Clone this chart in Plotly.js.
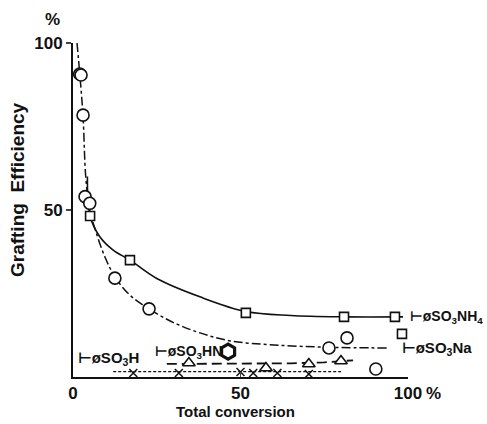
<!DOCTYPE html>
<html><head><meta charset="utf-8">
<script src="https://cdn.plot.ly/plotly-3.0.1.min.js"></script>
<style>html,body{margin:0;padding:0;background:#fff}#c{width:487px;height:424px}</style>
</head><body><div id="c"></div>
<script>
// SO3NH4 (squares)
const nh4X = [5.1, 17, 51.6, 80.9, 96.1];
const nh4Y = [48.2, 35, 19.2, 18, 18];
const nh4ExtraX = [98.2];
const nh4ExtraY = [12.9];
const nh4CurveX = [4.3, 5.1, 8, 12, 17, 25, 37.9, 51.6, 65, 80.9, 98.5];
const nh4CurveY = [60, 48.2, 42, 38, 35, 29.5, 24, 19.6, 18.4, 18, 18];
// SO3Na (circles)
const naX = [2.0, 2.4, 3.0, 3.6, 5.0, 12.5, 22.7, 76.4, 81.8, 90.4];
const naY = [90.7, 90.4, 78.4, 54, 52, 29.6, 20.4, 8.7, 11.7, 2.4];
const naCurveX = [1.2, 2.0, 3.0, 3.8, 5.0, 7, 9.5, 12.5, 17, 22.7, 30, 37.9, 47, 60, 76.4, 93.7];
const naCurveY = [100, 91, 78, 60, 50, 43, 36, 30, 24.5, 20.4, 16.3, 13.2, 10.8, 9.6, 8.9, 8.7];
// SO3HN-cyclohexyl (triangles)
const hnX = [34.6, 57.6, 70.4, 80];
const hnY = [4.2, 2.7, 3.9, 4.8];
const hnLineX = [28, 50, 65, 75, 83.6];
const hnLineY = [3.9, 4.0, 4.1, 4.4, 5.0];
// SO3H (crosses)
const hX = [18, 31.6, 50, 53.8, 61, 70.4];
const hY = [1.2, 1.2, 1.5, 1.2, 1.2, 0.9];
const hLineX = [12, 80];
const hLineY = [1.6, 1.6];
// labels
const xTicks = [0, 50, 100];
const xTickText = ['0', '50', '100'];
const yTicks = [50, 100];
const yTickText = ['50', '100'];

const F = 'Liberation Sans, Arial, DejaVu Sans, sans-serif';
const blk = '#111';
const traces = [
  {x: nh4CurveX, y: nh4CurveY, mode: 'lines', line: {color: blk, width: 1.6, shape: 'spline', smoothing: 1}},
  {x: naCurveX, y: naCurveY, mode: 'lines', line: {color: blk, width: 1.5, shape: 'spline', smoothing: 1, dash: 'dashdot'}},
  {x: hnLineX, y: hnLineY, mode: 'lines', line: {color: blk, width: 1.8, dash: '10px,5px'}},
  {x: hLineX, y: hLineY, mode: 'lines', line: {color: blk, width: 1.4, dash: '3px,2px'}},
  {x: nh4X, y: nh4Y, mode: 'markers', marker: {symbol: 'square', size: 9, color: '#fff', line: {color: blk, width: 1.6}}},
  {x: nh4ExtraX, y: nh4ExtraY, mode: 'markers', marker: {symbol: 'square', size: 9, color: '#fff', line: {color: blk, width: 1.6}}},
  {x: naX, y: naY, mode: 'markers', marker: {symbol: 'circle', size: 12, color: '#fff', line: {color: blk, width: 1.6}}},
  {x: hnX, y: hnY, mode: 'markers', marker: {symbol: 'triangle-up', size: 11, color: '#fff', line: {color: blk, width: 1.6}}},
  {x: hX, y: hY, mode: 'markers', marker: {symbol: 'x-thin-open', size: 8, color: blk, line: {color: blk, width: 1.5}}},
  {x: [46.3], y: [7.6], mode: 'markers', marker: {symbol: 'hexagon-open', size: 15, color: blk, line: {color: blk, width: 3.2}}}
];
const lf = {family: F, size: 15, color: blk, weight: 'bold'};
const sf = {family: F, size: 14, color: blk, weight: 'bold'};
const big = {family: F, size: 17, color: blk, weight: 'bold'};
const layout = {
  width: 487, height: 424, showlegend: false,
  paper_bgcolor: '#fff', plot_bgcolor: '#fff',
  margin: {l: 73, r: 79, t: 43, b: 47},
  font: {family: F, color: blk},
  xaxis: {range: [0, 100], tickvals: xTicks, ticktext: xTickText, ticks: 'inside', ticklen: 5, tickwidth: 1.5,
    showgrid: false, zeroline: false, showline: true, linewidth: 2, linecolor: blk,
    tickfont: big},
  yaxis: {range: [0, 100], tickvals: yTicks, ticktext: yTickText, ticks: 'outside', ticklen: 5, tickwidth: 1.5,
    showgrid: false, zeroline: false, showline: true, linewidth: 2, linecolor: blk, ticklabelstandoff: 0,
    tickfont: big},
  annotations: [
    {xref: 'paper', yref: 'paper', x: -0.164, y: 0.56, xanchor: 'center', yanchor: 'middle',
      text: 'Grafting  Efficiency', textangle: -90, showarrow: false,
      font: {family: F, size: 19, color: blk, weight: 'bold'}},
    {xref: 'paper', yref: 'paper', x: 0.484, y: -0.102, xanchor: 'center', yanchor: 'middle',
      text: 'Total conversion', showarrow: false,
      font: {family: F, size: 15, color: blk, weight: 'bold'}},
    {xref: 'paper', yref: 'paper', x: -0.06, y: 1.07, xanchor: 'center', yanchor: 'middle', text: '%', showarrow: false,
      font: big},
    {xref: 'paper', yref: 'paper', x: 1.075, y: -0.048, xanchor: 'center', yanchor: 'middle', text: '%', showarrow: false,
      font: big},
    {xref: 'paper', yref: 'y', x: 1.0, y: 18, xanchor: 'left', yanchor: 'middle', text: '⊢øSO<sub>3</sub>NH<sub>4</sub>', showarrow: false, font: sf},
    {xref: 'paper', yref: 'y', x: 0.976, y: 8.4, xanchor: 'left', yanchor: 'middle', text: '⊢øSO<sub>3</sub>Na', showarrow: false, font: lf},
    {x: 1.0, y: 5.6, xanchor: 'left', yanchor: 'middle', text: '⊢øSO<sub>3</sub>H', showarrow: false, font: lf},
    {x: 24.0, y: 7.6, xanchor: 'left', yanchor: 'middle', text: '⊢øSO<sub>3</sub>HN', showarrow: false, font: sf}
  ]
};
Plotly.newPlot('c', traces, layout, {displayModeBar: false, staticPlot: true});
</script></body></html>
